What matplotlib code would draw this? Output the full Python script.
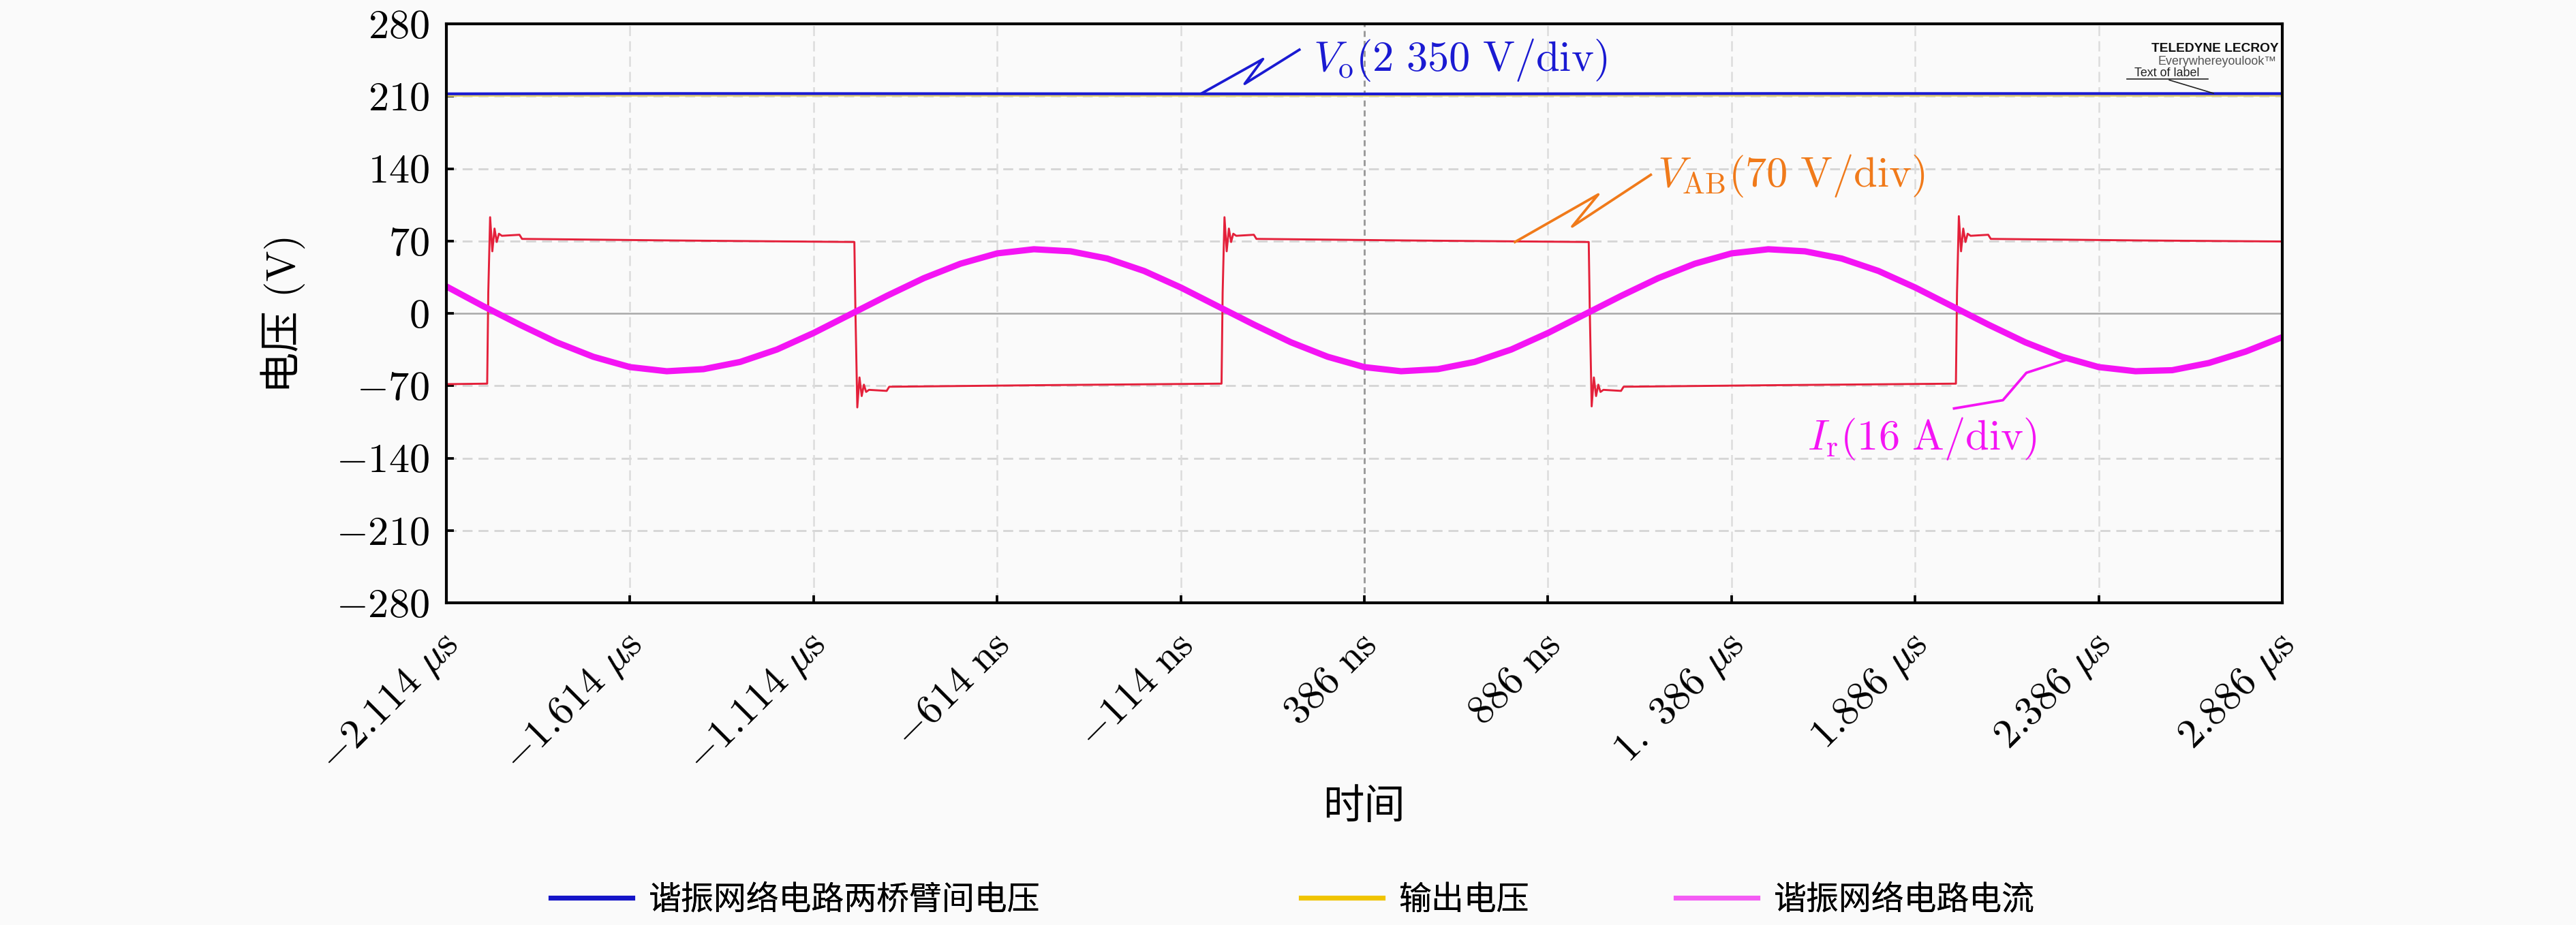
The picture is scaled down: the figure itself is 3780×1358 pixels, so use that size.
import matplotlib
matplotlib.use('Agg')
import matplotlib.pyplot as plt
from matplotlib.lines import Line2D
from matplotlib.transforms import ScaledTranslation

plt.rcParams['mathtext.fontset'] = 'cm'
plt.rcParams['font.family'] = ['cmr10', 'Noto Sans CJK SC', 'DejaVu Sans']
plt.rcParams['axes.unicode_minus'] = False
plt.rcParams['axes.formatter.use_mathtext'] = True

# ---------------- data ----------------
x_ticks = [-2.114, -1.614, -1.114, -0.614, -0.114, 0.386, 0.886, 1.386, 1.886, 2.386, 2.886]
x_tick_labels = [r'$-2.114\ \mu\mathrm{s}$', r'$-1.614\ \mu\mathrm{s}$', r'$-1.114\ \mu\mathrm{s}$',
                 r'$-614\ \mathrm{ns}$', r'$-114\ \mathrm{ns}$', r'$386\ \mathrm{ns}$',
                 r'$886\ \mathrm{ns}$', r'$1.\ 386\ \mu\mathrm{s}$', r'$1.886\ \mu\mathrm{s}$',
                 r'$2.386\ \mu\mathrm{s}$', r'$2.886\ \mu\mathrm{s}$']
y_ticks = [-280, -210, -140, -70, 0, 70, 140, 210, 280]

# output voltage trace (blue) and faint yellow trace under it
t_vo = [-2.114, -1.5, -0.5, 0.5, 1.5, 2.886]
v_vo = [212.3, 212.6, 212.4, 212.2, 212.6, 212.5]
t_out = [-2.114, -1.0, 0.0, 1.0, 2.886]
v_out = [210.6, 210.8, 210.5, 210.8, 210.6]

# bridge voltage VAB (red square wave)
t_vab = [-2.114, -2.003, -2.000, -1.995, -1.989, -1.983, -1.977, -1.971, -1.963, -1.915, -1.908, -1.500, -1.003,
         -1.000, -0.995, -0.989, -0.983, -0.977, -0.971, -0.963, -0.915, -0.908, -0.500, -0.003,
         0.000, 0.005, 0.011, 0.017, 0.023, 0.029, 0.037, 0.085, 0.092, 0.500, 0.997,
         1.000, 1.005, 1.011, 1.017, 1.023, 1.029, 1.037, 1.085, 1.092, 1.500, 1.997,
         2.000, 2.005, 2.011, 2.017, 2.023, 2.029, 2.037, 2.085, 2.092, 2.500, 2.886]
v_vab = [-68.5, -68, 20, 93, 60, 82, 69, 77, 75, 76, 72, 70.5, 69,
         0, -91, -62, -80, -69, -76, -74, -75, -71, -69.5, -68,
         20, 93, 60, 82, 69, 77, 75, 76, 72, 70.5, 69,
         0, -90, -62, -80, -69, -76, -74, -75, -71, -69.5, -68,
         20, 94, 60, 82, 69, 77, 75, 76, 72, 70.5, 69.5]

# resonant current Ir (magenta)
t_ir = [-2.114, -2.014, -1.914, -1.814, -1.714, -1.614, -1.514, -1.414, -1.314, -1.214,
        -1.114, -1.014, -0.914, -0.814, -0.714, -0.614, -0.514, -0.414, -0.314, -0.214,
        -0.114, -0.014, 0.086, 0.186, 0.286, 0.386, 0.486, 0.586, 0.686, 0.786,
        0.886, 0.986, 1.086, 1.186, 1.286, 1.386, 1.486, 1.586, 1.686, 1.786,
        1.886, 1.986, 2.086, 2.186, 2.286, 2.386, 2.486, 2.586, 2.686, 2.786, 2.886]
i_ir = [26, 7, -11, -28, -42, -52, -56, -54, -47, -35,
        -19, -1, 17, 34, 48, 58, 62, 60, 53, 41,
        25, 7, -11, -28, -42, -52, -56, -54, -47, -35,
        -19, -1, 17, 34, 48, 58, 62, 60, 53, 41,
        25, 7, -11, -28, -42, -52, -56, -55, -48, -37, -23]

# annotation zigzag leaders (data coords)
vo_zig_t = [-0.056, 0.110, 0.060, 0.209]
vo_zig_v = [213, 246, 222, 255]
vab_zig_t = [0.796, 1.023, 0.952, 1.166]
vab_zig_v = [69, 115, 84, 134]
ir_zig_t = [2.306, 2.189, 2.125, 1.992]
ir_zig_v = [-44, -57.5, -84, -92]

legend_labels = ['谐振网络电路两桥臂间电压', '输出电压', '谐振网络电路电流']
legend_colors = ['#1414c8', '#f0c400', '#f45cf4']

# ---------------- figure ----------------
BG = '#fafafa'
fig = plt.figure(figsize=(12.6, 4.5267), dpi=300, facecolor=BG)
ax = fig.add_axes([0.1733, 0.3483, 0.7127, 0.6259], facecolor=BG)

xmin, xmax = -2.114, 2.886
ax.set_xlim(xmin, xmax)
ax.set_ylim(-280, 280)

# graticule
for v in y_ticks[1:-1]:
    if v == 0:
        ax.axhline(0, color='#a8a8a8', lw=0.6, zorder=1)
    else:
        ax.axhline(v, color='#d6d6d6', lw=0.7, ls=(0, (5, 3)), zorder=1)
for i, t in enumerate(x_ticks[1:-1]):
    if abs(t - 0.386) < 1e-6:
        ax.axvline(t, color='#9a9a9a', lw=0.7, ls=(0, (3, 2)), zorder=1)
    else:
        ax.axvline(t, color='#dcdcdc', lw=0.6, ls=(0, (6, 3)), zorder=1)

# traces
ax.plot(t_out, v_out, color='#e6d46a', lw=0.8, zorder=2)
ax.plot(t_vo, v_vo, color='#1a1ad2', lw=1.0, zorder=3)
ax.plot(t_vab, v_vab, color='#e4203a', lw=0.7, zorder=4)
ax.plot(t_ir, i_ir, color='#f414f4', lw=2.2, zorder=5, solid_capstyle='butt')

# annotations
ax.plot(vo_zig_t, vo_zig_v, color='#1a1ad2', lw=0.9, zorder=6)
ax.text(0.247, 245, r'$V_{\mathrm{o}}(2\ 350\ \mathrm{V/div})$', color='#1a1ad2',
        fontsize=15, ha='left', va='center', zorder=6)
ax.plot(vab_zig_t, vab_zig_v, color='#f07a1a', lw=0.9, zorder=6)
ax.text(1.184, 133, r'$V_{\mathrm{AB}}(70\ \mathrm{V/div})$', color='#f07a1a',
        fontsize=15, ha='left', va='center', zorder=6)
ax.plot(ir_zig_t, ir_zig_v, color='#f414f4', lw=0.9, zorder=6)
ax.text(1.592, -121, r'$I_{\mathrm{r}}(16\ \mathrm{A/div})$', color='#f414f4',
        fontsize=15, ha='left', va='center', zorder=6)

# scope logo texts
ax.text(0.998, 0.952, 'TELEDYNE LECROY', transform=ax.transAxes, ha='right', va='baseline',
        fontsize=4.6, fontweight='bold', family=['Liberation Sans'], color='#111111', zorder=7)
ax.text(0.997, 0.930, 'Everywhereyoulook\u2122', transform=ax.transAxes, ha='right', va='baseline',
        fontsize=4.3, family=['Liberation Sans'], color='#555555', zorder=7)
ax.text(0.937, 0.909, 'Text of label', transform=ax.transAxes, ha='center', va='baseline',
        fontsize=4.3, family=['Liberation Sans'], color='#222222', zorder=7)
ax.plot([0.9154, 0.9596], [0.905, 0.905], transform=ax.transAxes, color='#222222', lw=0.4, zorder=7)
ax.plot([0.9384, 0.9625], [0.903, 0.880], transform=ax.transAxes, color='#222222', lw=0.4, zorder=7)

# spines & ticks
for s in ax.spines.values():
    s.set_linewidth(1.0)
    s.set_color('black')
    s.set_zorder(8)
ax.set_yticks(y_ticks)
ax.set_yticklabels([f'${v}$' for v in y_ticks])
ax.set_xticks(x_ticks)
ax.set_xticklabels(x_tick_labels, rotation=45, ha='right', va='center', rotation_mode='anchor')
ax.tick_params(axis='both', direction='in', length=2.6, width=0.9, labelsize=14.5,
               top=False, right=False)
ax.tick_params(axis='y', pad=6)
ax.tick_params(axis='x', pad=13)
off = ScaledTranslation(0.035, 0, fig.dpi_scale_trans)
for lab in ax.get_xticklabels():
    lab.set_transform(lab.get_transform() + off)

# axis labels
fig.text(0.1098, 0.661, '电压 (V)', rotation=90, ha='center', va='center', fontsize=14.5,
         family=['cmr10', 'Noto Sans CJK SC'])
fig.text(0.5294, 0.1274, '时间', ha='center', va='center', fontsize=14.5,
         family=['Noto Sans CJK SC'])

# legend (three entries placed under the axes)
leg_x = [0.2138, 0.5050, 0.6505]
for lbl, col, lx in zip(legend_labels, legend_colors, leg_x):
    h = Line2D([], [], color=col, lw=1.7)
    lg = fig.legend([h], [lbl], loc='center left', bbox_to_anchor=(lx, 0.0272),
                    frameon=False, borderpad=0, borderaxespad=0, handlelength=2.5,
                    handletextpad=0.5, prop={'family': ['Noto Sans CJK SC'], 'size': 11.5})
    fig.add_artist(lg)

fig.savefig('out.png', dpi=300, facecolor=BG)
